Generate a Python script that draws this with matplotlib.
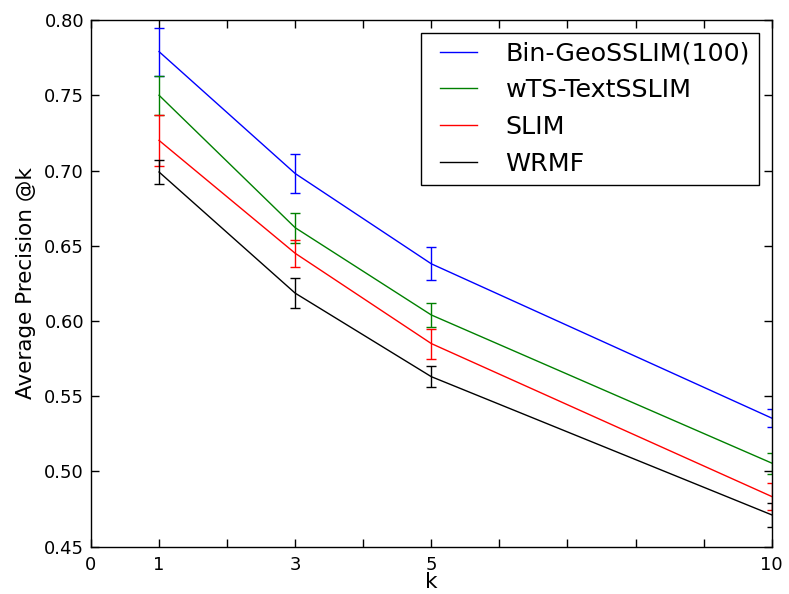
import matplotlib
matplotlib.use("Agg")
import numpy as np
import matplotlib.pyplot as plt
from matplotlib.legend_handler import HandlerLine2D

k = [1, 3, 5, 10]

names = ["Bin-GeoSSLIM(100)", "wTS-TextSSLIM", "SLIM", "WRMF"]
colors = ["b", "g", "r", "k"]

geo = [0.779, 0.698, 0.638, 0.5355]
geo_err = [0.016, 0.013, 0.011, 0.006]
text = [0.750, 0.662, 0.604, 0.5056]
text_err = [0.013, 0.010, 0.008, 0.007]
slim = [0.720, 0.645, 0.585, 0.4834]
slim_err = [0.017, 0.009, 0.010, 0.0088]
wrmf = [0.699, 0.6185, 0.563, 0.4712]
wrmf_err = [0.008, 0.010, 0.007, 0.008]

series = [(geo, geo_err), (text, text_err), (slim, slim_err), (wrmf, wrmf_err)]


class ShortLine(HandlerLine2D):
    # old-style legend: line sits in the right part of the handle box
    def create_artists(self, legend, orig_handle, xdescent, ydescent,
                       width, height, fontsize, trans):
        arts = super().create_artists(legend, orig_handle, xdescent, ydescent,
                                      width, height, fontsize, trans)
        for a in arts:
            x = np.asarray(a.get_xdata(), dtype=float)
            x0, x1 = x.min(), x.max()
            a.set_xdata(np.linspace(x0 + 0.22 * (x1 - x0), x1, len(x)))
        return arts


fig = plt.figure(figsize=(7.89, 5.94), dpi=100)
ax = fig.add_axes([0.1153, 0.0796, 0.978 - 0.1153, 0.9663 - 0.0796])

lines = []
for (vals, err), name, c in zip(series, names, colors):
    ln, = ax.plot(k, vals, color=c, lw=1.0, label=name)
    lines.append(ln)
    ax.errorbar(k, vals, yerr=err, fmt='none', ecolor=c, elinewidth=1.0,
                capsize=3.4, capthick=1.0)

ax.set_xlim(0, 10)
ax.set_ylim(0.45, 0.80)
ax.set_xticks(range(11))
ax.set_xticklabels([str(i) if i in (0, 1, 3, 5, 10) else "" for i in range(11)])
ax.set_yticks([0.45, 0.50, 0.55, 0.60, 0.65, 0.70, 0.75, 0.80])
ax.set_yticklabels(["%.2f" % v for v in ax.get_yticks()])
ax.tick_params(direction='in', length=6, width=1, top=True, right=True,
               labelsize=13, pad=5)
ax.tick_params(axis='x', pad=6.5)
for s in ax.spines.values():
    s.set_linewidth(1.0)

ax.set_xlabel("k", fontsize=15.5, labelpad=-1)
ax.set_ylabel("Average Precision @k", fontsize=15.5, labelpad=6)

leg = ax.legend(handles=lines, loc='upper right', fontsize=18.3,
                fancybox=False, edgecolor='k', framealpha=1,
                handlelength=1.83, handletextpad=1.14, borderpad=0.35,
                labelspacing=0.5, borderaxespad=0.5,
                handler_map={ln: ShortLine() for ln in lines})
leg.get_frame().set_linewidth(1.0)

fig.savefig("out.png", dpi=100)
